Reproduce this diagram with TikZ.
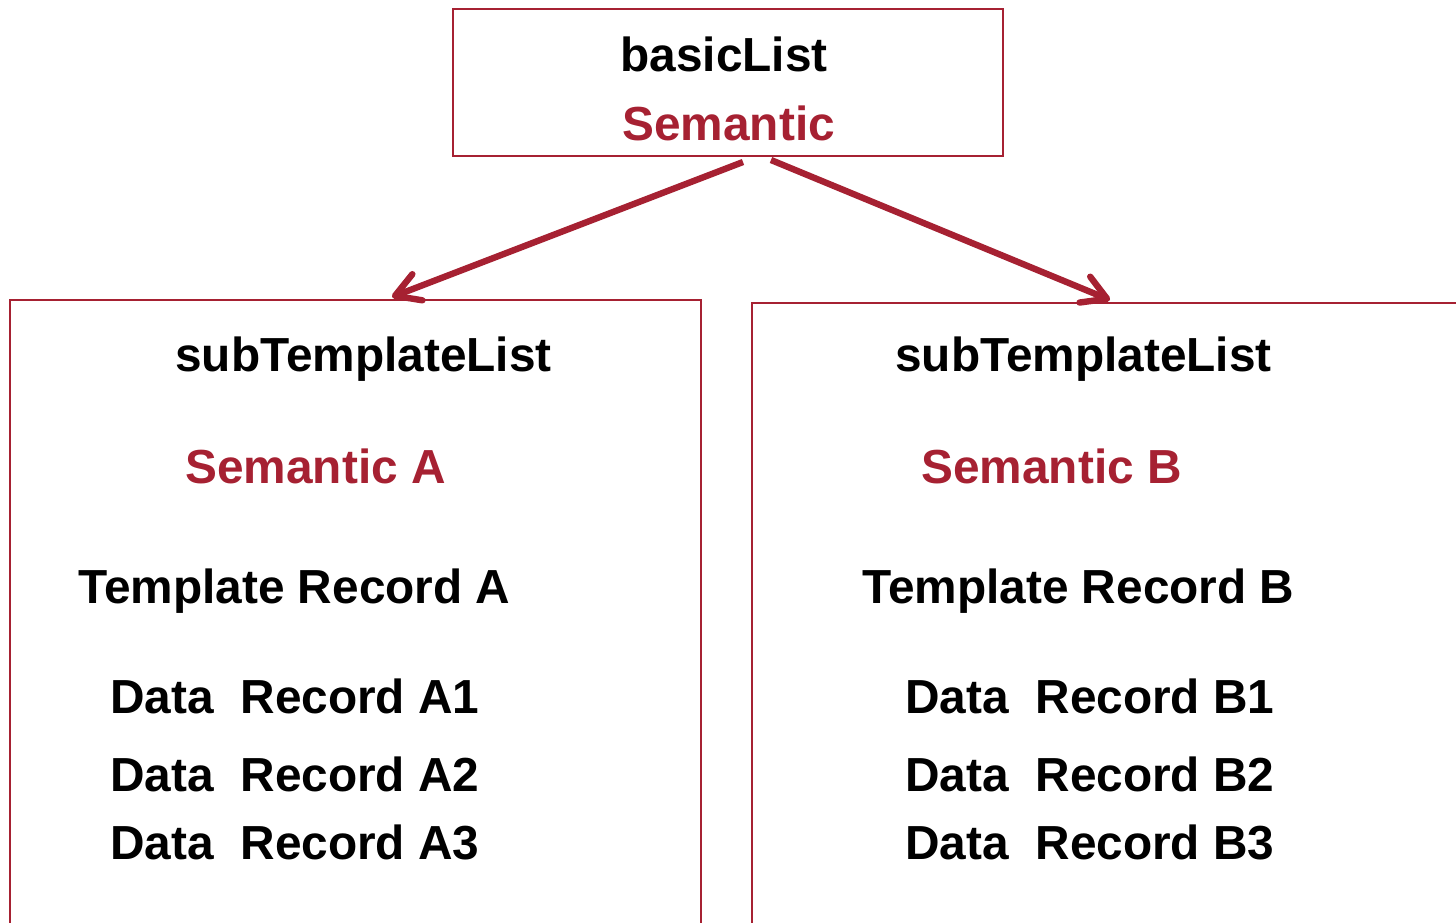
\documentclass[tikz,border=0pt]{standalone}
\usepackage{fontspec}
\setmainfont{Liberation Sans}
\usetikzlibrary{arrows.meta, positioning, calc}
\definecolor{listred}{RGB}{166,33,50}

\begin{document}
\begin{tikzpicture}[x=0.5pt,y=-0.5pt,
  lbl/.style={anchor=base west,inner sep=0pt,font=\fontsize{23.9}{28}\selectfont\bfseries},
  sem/.style={lbl,text=listred},
  frame/.style={draw=listred,line width=1pt,inner sep=0pt},
  link/.style={draw=listred,line width=3.2pt,-{Straight Barb[length=12pt,width=14pt,line cap=round,line join=round]}}]
\useasboundingbox (0,0) rectangle (1456,922);
\clip (0,0) rectangle (1456,922);
% Boxes
\node[frame,minimum width=275pt,minimum height=73.5pt] (basic) at (728,82.5) {};
\node[frame,minimum width=345.5pt,minimum height=360pt] (listA) at (355.5,660) {};
\node[frame,minimum width=400pt,minimum height=360pt] (listB) at (1152,663) {};
% Texts
\node[lbl] (basicname) at (620,71) {basicList};
\node[sem] (basicsem) at (622,140) {Semantic};
\node[lbl] (nameA) at (175,371) {subTemplateList};
\node[sem] (semA) at (185,483) {Semantic A};
\node[lbl] (tmplA) at (78,603) {Template Record A};
\node[lbl] (dataA1) at (110,713) {Data\ \ Record A1};
\node[lbl] (dataA2) at (110,791) {Data\ \ Record A2};
\node[lbl] (dataA3) at (110,859) {Data\ \ Record A3};
\node[lbl] (nameB) at (895,371) {subTemplateList};
\node[sem] (semB) at (921,483) {Semantic B};
\node[lbl] (tmplB) at (862,603) {Template Record B};
\node[lbl] (dataB1) at (905,713) {Data\ \ Record B1};
\node[lbl] (dataB2) at (905,791) {Data\ \ Record B2};
\node[lbl] (dataB3) at (905,859) {Data\ \ Record B3};
% Arrows
\coordinate (fromA) at (743,162);
\coordinate (fromB) at (771,160);
\coordinate (toA) at (392,297);
\coordinate (toB) at (1110,300);
\draw[link] (fromA) -- (toA);
\draw[link] (fromB) -- (toB);
\end{tikzpicture}
\end{document}
